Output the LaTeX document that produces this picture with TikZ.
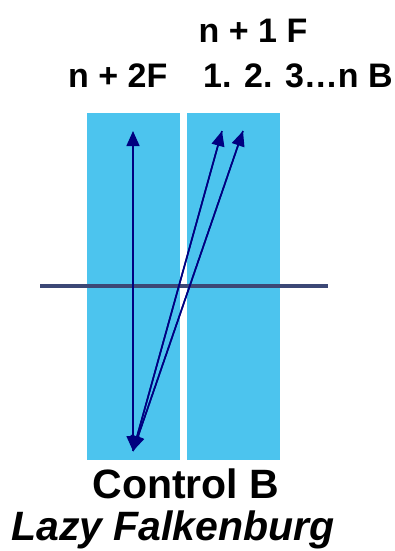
\documentclass[tikz,border=0pt]{standalone}
\usepackage{fontspec}
\setmainfont{Liberation Sans}
\usetikzlibrary{arrows.meta}
\definecolor{panelblue}{HTML}{4CC4EE}
\definecolor{raynavy}{HTML}{000080}
\definecolor{axisgray}{HTML}{3C4876}
\tikzset{
  panel/.style={fill=panelblue, draw=none, inner sep=0pt, minimum width=93pt, minimum height=347pt},
  ray/.style={draw=raynavy, line width=1.6pt, -{Triangle[length=15pt,width=13pt]}},
  biray/.style={draw=raynavy, line width=1.6pt, {Triangle[length=15pt,width=13pt]}-{Triangle[length=15pt,width=13pt]}},
  axis/.style={draw=axisgray, line width=3.5pt},
  toplabel/.style={font=\fontsize{34}{40}\selectfont\bfseries, inner sep=0pt},
  botlabel/.style={font=\fontsize{41}{48}\selectfont\bfseries, inner sep=0pt}
}
\begin{document}
\begin{tikzpicture}[x=1pt,y=-1pt]
\useasboundingbox (0,0) rectangle (395,551);
% panels
\node[panel] (lp) at (133.5,286.5) {};
\node[panel] (rp) at (233.5,286.5) {};
% axis
\coordinate (axl) at (40,286);
\coordinate (axr) at (328,286);
\draw[axis] (axl) -- (axr);
% ray endpoints
\coordinate (bot) at (133,451);
\coordinate (t1) at (133,131);
\coordinate (t2) at (222,131);
\coordinate (t3) at (243,131);
\draw[ray] (t2) -- (bot);
\draw[ray] (t3) -- (bot);
\draw[ray] (bot) -- (t2);
\draw[ray] (bot) -- (t3);
\draw[biray] (bot) -- (t1);
% labels
\node[toplabel, anchor=base] (l1) at (253,43) {n + 1 F};
\node[toplabel, anchor=base west] (l2) at (68,87) {n + 2F};
\node[toplabel, anchor=base west] (l3) at (203,87) {1. 2. 3…n B};
\node[botlabel, anchor=base] (c1) at (186,498) {Control B};
\node[botlabel, anchor=base west, font=\fontsize{41}{48}\selectfont\bfseries\itshape] (c2) at (11,540) {Lazy Falkenburg};
\end{tikzpicture}
\end{document}
